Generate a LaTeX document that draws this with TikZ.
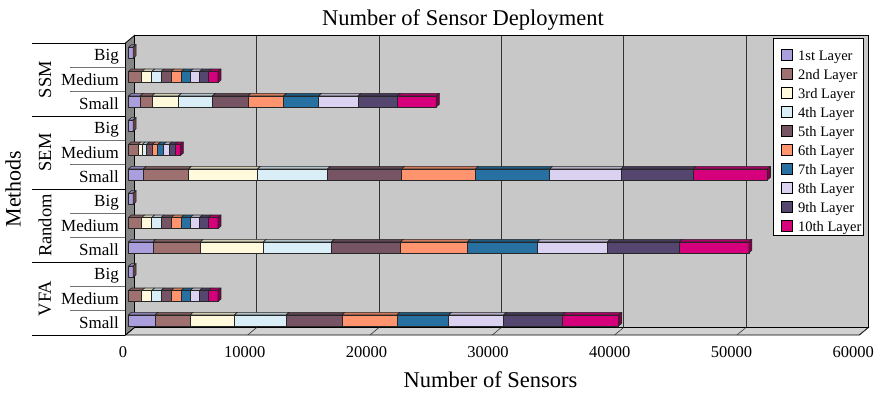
\documentclass[tikz,border=0pt]{standalone}
\usepackage{fontspec}
\setmainfont{Liberation Serif}

% series colours, one per layer
\definecolor{layer1}{HTML}{AA9EDC}
\definecolor{layer2}{HTML}{9E7070}
\definecolor{layer3}{HTML}{FFFADC}
\definecolor{layer4}{HTML}{DAEEF8}
\definecolor{layer5}{HTML}{765464}
\definecolor{layer6}{HTML}{FF946E}
\definecolor{layer7}{HTML}{2670A2}
\definecolor{layer8}{HTML}{DAD2F0}
\definecolor{layer9}{HTML}{54466E}
\definecolor{layer10}{HTML}{D6007C}
\definecolor{wallgray}{HTML}{C8C8C8}
\definecolor{sidegray}{HTML}{868686}
\definecolor{floorgray}{HTML}{D2D2D2}

% one stacked 3-D bar: #1 = row (0 = top), #2 = sensors per layer
\newcommand\stackbar[2]{%
  \pgfmathsetmacro\barY{52.7+24.33*#1}%
  \xdef\curx{128.4}%
  \foreach \v [count=\k] in {#2} {%
    \ifdim\v pt>0pt
      \pgfmathsetmacro\nx{\curx+\v*0.01223}%
      \filldraw[seg, fill=layer\k!82!black]
        (\curx,\barY-5.5) -- ++(3,-2.5) -- (\nx+3,\barY-8) -- (\nx,\barY-5.5) -- cycle;
      \filldraw[seg, fill=layer\k] (\curx,\barY-5.5) rectangle (\nx,\barY+5.5);
      \xdef\curx{\nx}\xdef\lastk{\k}%
    \fi
  }%
  \filldraw[seg, fill=layer\lastk!60!black]
    (\curx,\barY-5.5) -- ++(3,-2.5) -- ++(0,11) -- ++(-3,2.5) -- cycle;
}

\begin{document}
\begin{tikzpicture}[x=1pt,y=-1pt,
  seg/.style={draw=black!85, line width=0.6pt, line join=round},
  gridline/.style={draw=black!80, line width=0.8pt},
  frame/.style={draw=black, line width=0.8pt},
  sublabel/.style={anchor=base east, inner sep=0pt, font=\fontsize{17}{17}\selectfont},
  grouplabel/.style={rotate=90, inner sep=0pt, font=\fontsize{18.5}{18.5}\selectfont},
  ticklabel/.style={anchor=base, inner sep=0pt, font=\fontsize{16.5}{16.5}\selectfont},
  bigtitle/.style={anchor=base, inner sep=0pt, font=\fontsize{22.5}{22.5}\selectfont},
  legtext/.style={anchor=base west, inner sep=0pt, font=\fontsize{14.5}{14.5}\selectfont},
  legkey/.style={draw=black, line width=0.6pt, minimum size=11pt, inner sep=0pt}]

\useasboundingbox (0,0) rectangle (882,394);

% back wall with vertical grid lines
\filldraw[frame, fill=wallgray] (134.4,35.5) rectangle (868.3,327.5);
\foreach \k in {1,...,5}
  \draw[gridline] (134.4+122.3*\k,35.5) -- (134.4+122.3*\k,327.5);

% floor and its tick marks
\filldraw[frame, fill=floorgray]
  (125.4,335) -- (859.3,335) -- (868.3,327.5) -- (134.4,327.5) -- cycle;
\foreach \k in {0,...,6}
  \draw[gridline, line width=0.6pt] (125.4+122.3*\k,335) -- ++(9,-7.5);

% left wall
\filldraw[frame, fill=sidegray]
  (125.4,43) -- (134.4,35.5) -- (134.4,327.5) -- (125.4,335) -- cycle;

% SSM
\stackbar{0}{360,30}
\stackbar{1}{0,1090,820,760,820,820,740,760,740,770}
\stackbar{2}{960,960,2170,2780,2900,2910,2860,3220,3210,3190}
% SEM
\stackbar{3}{360,30}
\stackbar{4}{0,780,350,350,460,450,470,460,480,450}
\stackbar{5}{1230,3680,5640,5720,6050,6050,6050,5830,5890,6080}
% Random
\stackbar{6}{360,30}
\stackbar{7}{0,1090,820,760,820,820,740,760,740,770}
\stackbar{8}{2000,3870,5150,5560,5640,5480,5700,5750,5860,5690}
% VFA
\stackbar{9}{360,30}
\stackbar{10}{0,1090,820,760,820,820,740,760,740,770}
\stackbar{11}{2180,2860,3620,4230,4550,4500,4220,4500,4780,4630}

% category table on the left
\foreach \g in {0,...,4}
  \draw[black, line width=0.8pt] (32,43+73*\g) -- (125.4,43+73*\g);
\foreach \r in {1,2,4,5,7,8,10,11}
  \draw[black!55, line width=1pt] (70,43+24.33*\r) -- (125.4,43+24.33*\r);
\foreach \lab [count=\i from 0] in {Big,Medium,Small,Big,Medium,Small,Big,Medium,Small,Big,Medium,Small}
  \node[sublabel] (cat\i) at (119,60.7+24.33*\i) {\lab};
\node[grouplabel] (gSSM) at (45,79.5) {SSM};
\node[grouplabel] (gSEM) at (45,152.5) {SEM};
\node[grouplabel] (gRandom) at (45,225.5) {Random};
\node[grouplabel] (gVFA) at (45,298.5) {VFA};
\node[grouplabel, font=\fontsize{22}{22}\selectfont] (ytitle) at (13,189) {Methods};

% value axis
\foreach \t [count=\i from 0] in {0,10000,20000,30000,40000,50000,60000}
  \node[ticklabel] (tick\i) at (123+121.7*\i,357) {\t};
\node[bigtitle] (xtitle) at (490.5,387.3) {Number of Sensors};
\node[bigtitle] (title) at (463,25) {Number of Sensor Deployment};

% legend
\filldraw[draw=black, line width=0.8pt, fill=white] (773,38) rectangle (863,235);
\foreach \name [count=\j] in {1st Layer,2nd Layer,3rd Layer,4th Layer,5th Layer,6th Layer,7th Layer,8th Layer,9th Layer,10th Layer} {
  \node[legkey, fill=layer\j] (key\j) at (786.5,54.5+19.06*\j-19.06) {};
  \node[legtext] (leg\j) at (798,60+19.06*\j-19.06) {\name};
}
\end{tikzpicture}
\end{document}
